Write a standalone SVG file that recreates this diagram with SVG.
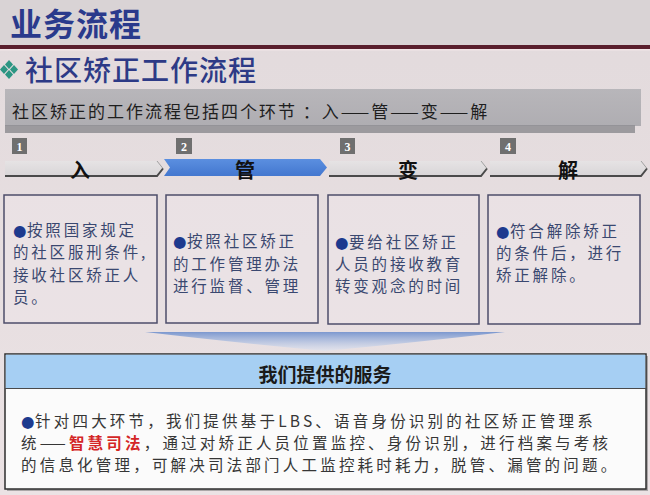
<svg xmlns="http://www.w3.org/2000/svg" width="650" height="495" viewBox="0 0 650 495">
<defs>
<linearGradient id="bg" x1="0" y1="0" x2="0" y2="1">
<stop offset="0" stop-color="#e2dadc"/>
<stop offset="1" stop-color="#ebe2e4"/>
</linearGradient>
<linearGradient id="blueTab" x1="0" y1="0" x2="0" y2="1">
<stop offset="0" stop-color="#5b8fe0"/>
<stop offset="1" stop-color="#4377cf"/>
</linearGradient>
<linearGradient id="grayTab" x1="0" y1="0" x2="0" y2="1">
<stop offset="0" stop-color="#e6e4e5"/>
<stop offset="1" stop-color="#d6d4d6"/>
</linearGradient>
<linearGradient id="lens" x1="0" y1="0" x2="0" y2="1">
<stop offset="0" stop-color="#7c98cf"/>
<stop offset="1" stop-color="#dfe4f0" stop-opacity="0.6"/>
</linearGradient>
<linearGradient id="band" x1="0" y1="0" x2="0" y2="1">
<stop offset="0" stop-color="#b3b2b6"/>
<stop offset="1" stop-color="#a9a8ad"/>
</linearGradient>
<style>
.title{font-family:"Noto Sans CJK SC","Noto Sans",sans-serif;font-weight:700;font-size:32px;fill:#2a3a8c;letter-spacing:1px}
.sub{font-family:"Noto Sans CJK SC","Noto Sans",sans-serif;font-weight:500;font-size:28px;fill:#2d3a86;letter-spacing:1px}
.intro{font-family:"Noto Sans CJK SC",sans-serif;font-size:17px;fill:#1e1e1e;letter-spacing:2px}
.num{font-family:"Liberation Serif",serif;font-weight:700;font-size:12px;fill:#ffffff;text-anchor:middle}
.numbox{fill:#6f6f6f}
.tablbl{font-family:"Noto Sans CJK SC",sans-serif;font-weight:700;font-size:20px;fill:#111111;text-anchor:middle}
.gtab{fill:url(#grayTab);opacity:0.85}
.gline{fill:none;stroke:#4a4a4a;stroke-width:2}
.gline2{fill:none;stroke:#a0a0a0;stroke-width:1}
.box{fill:#ece5e8;fill-opacity:0.6;stroke:#4d4d6a;stroke-width:1.5}
.btxt{font-family:"Noto Sans CJK SC",sans-serif;font-size:15.5px;fill:#3a4870;letter-spacing:2.8px}
.bul{fill:#1d3a8e;font-family:"DejaVu Sans",sans-serif;letter-spacing:0.5px}
.svc{font-family:"Noto Sans CJK SC",sans-serif;font-size:15.5px;fill:#363636;letter-spacing:3.2px}
.red{fill:#d42626;font-weight:700}
.hdr{font-family:"Noto Sans CJK SC",sans-serif;font-weight:700;font-size:19px;fill:#1a1a1a;text-anchor:middle}
</style>
</defs>

<rect width="650" height="495" fill="url(#bg)"/>
<rect width="650" height="45" fill="#d9d3d5"/>

<g id="title">
<text class="title" x="10" y="36">业务流程</text>
<rect x="0" y="45" width="650" height="4" fill="#5a1f2d"/>
<rect x="0" y="49" width="650" height="1.5" fill="#f2e6e8"/>
</g>

<g id="subtitle">
<g fill="#2c9683">
<path d="M9 60 L13 64.5 L9 69 L5 64.5 Z"/>
<path d="M14 65 L18 69.5 L14 74 L10 69.5 Z"/>
<path d="M4 65 L8 69.5 L4 74 L0 69.5 Z"/>
<path d="M9 70 L13 74.5 L9 79 L5 74.5 Z"/>
</g>
<text class="sub" x="25" y="81">社区矫正工作流程</text>
</g>

<g id="intro">
<rect x="5" y="89" width="636" height="37" fill="url(#band)" opacity="0.9"/>
<rect x="5" y="125" width="630" height="8" fill="#8f8e93" opacity="0.85"/>
<text class="intro" x="12" y="118">社区矫正的工作流程包括四个环节 ：入——管——变——解</text>
</g>

<g id="step1">
<rect class="numbox" x="12" y="138" width="15" height="16"/>
<text class="num" x="19.5" y="150.5">1</text>
<path class="gtab" d="M5 161 L157 161 L163 168.5 L157 176 L5 176 Z"/>
<path class="gline2" d="M157 161 L163 168.5"/>
<path class="gline" d="M5 176 L157 176 L163 168.5"/>
<text class="tablbl" x="80" y="178">入</text>
<rect class="box" x="4" y="195" width="153" height="128"/>
<text class="btxt"><tspan x="13" y="236"><tspan class="bul">●</tspan>按照国家规定</tspan><tspan x="13" y="258">的社区服刑条件,</tspan><tspan x="13" y="280.5">接收社区矫正人</tspan><tspan x="13" y="303">员。</tspan></text>
</g>

<g id="step2">
<rect class="numbox" x="176" y="138" width="16" height="16"/>
<text class="num" x="184" y="150.5">2</text>
<path d="M164 159 L320 159 L327 167.5 L320 176 L164 176 L170 167.5 Z" fill="url(#blueTab)"/>
<text class="tablbl" x="245" y="178">管</text>
<rect class="box" x="166" y="195" width="152" height="128"/>
<text class="btxt"><tspan x="173" y="247"><tspan class="bul">●</tspan>按照社区矫正</tspan><tspan x="173" y="269.5">的工作管理办法</tspan><tspan x="173" y="292">进行监督、管理</tspan></text>
</g>

<g id="step3">
<rect class="numbox" x="340" y="138" width="15" height="16"/>
<text class="num" x="347.5" y="150.5">3</text>
<path class="gtab" d="M329 161 L481 161 L487 168.5 L481 176 L329 176 Z"/>
<path class="gline2" d="M481 161 L487 168.5"/>
<path class="gline" d="M329 176 L481 176 L487 168.5"/>
<text class="tablbl" x="408" y="178">变</text>
<rect class="box" x="328" y="195" width="151" height="129"/>
<text class="btxt"><tspan x="335" y="248"><tspan class="bul">●</tspan>要给社区矫正</tspan><tspan x="335" y="270">人员的接收教育</tspan><tspan x="335" y="292">转变观念的时间</tspan></text>
</g>

<g id="step4">
<rect class="numbox" x="500" y="138" width="16" height="16"/>
<text class="num" x="508" y="150.5">4</text>
<path class="gtab" d="M490 161 L641 161 L647 168.5 L641 176 L490 176 Z"/>
<path class="gline2" d="M641 161 L647 168.5"/>
<path class="gline" d="M490 176 L641 176 L647 168.5"/>
<text class="tablbl" x="568" y="178">解</text>
<rect class="box" x="488" y="195" width="152" height="129"/>
<text class="btxt"><tspan x="496" y="237"><tspan class="bul">●</tspan>符合解除矫正</tspan><tspan x="496" y="259">的条件后，进行</tspan><tspan x="496" y="281">矫正解除。</tspan></text>
</g>

<g id="connectors">
<path d="M145 332 L505 332 Q420 342 325 351 Q230 342 145 332 Z" fill="url(#lens)"/>
</g>

<g id="service">
<rect x="7" y="356" width="641" height="135" fill="#6b6b6b" opacity="0.5"/>
<rect x="5" y="354" width="641" height="135" fill="#fbfbfb" stroke="#2e2e2e" stroke-width="1.5"/>
<rect x="5.75" y="354.75" width="639.5" height="33.25" fill="#a6cff3"/>
<line x1="5" y1="388.5" x2="646" y2="388.5" stroke="#4a4a4a" stroke-width="1.2"/>
<text class="hdr" x="325" y="382">我们提供的服务</text>
<text class="svc"><tspan x="21" y="427"><tspan class="bul">●</tspan>针对四大环节，我们提供基于LBS、语音身份识别的社区矫正管理系</tspan><tspan x="21" y="449">统——<tspan class="red">智慧司法</tspan>，通过对矫正人员位置监控、身份识别，进行档案与考核</tspan><tspan x="21" y="471">的信息化管理，可解决司法部门人工监控耗时耗力，脱管、漏管的问题。</tspan></text>
</g>
</svg>
